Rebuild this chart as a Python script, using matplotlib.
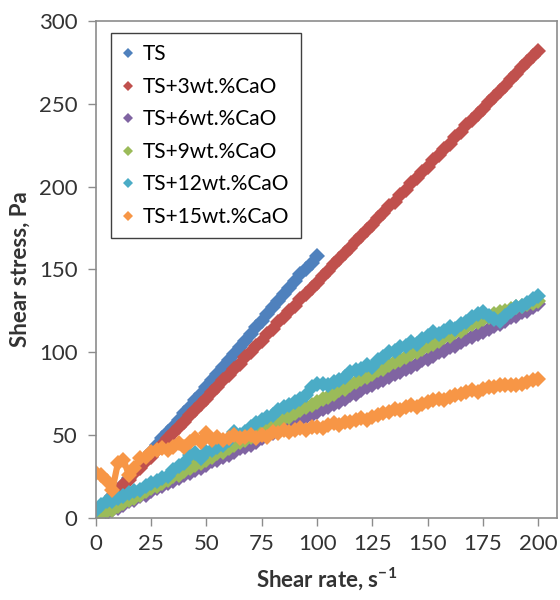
"""Shear stress vs shear rate, TS with CaO additions (Excel-style scatter)."""

import matplotlib

matplotlib.use("Agg")
import matplotlib.pyplot as plt

plt.rcParams["font.family"] = ["Lato", "DejaVu Sans"]
plt.rcParams["mathtext.fontset"] = "custom"
plt.rcParams["mathtext.rm"] = "Lato"
plt.rcParams["mathtext.bf"] = "Lato:bold"

# -- data (step 2.5 s^-1)
rate_ts = [i * 2.5 for i in range(41)]
rate = [i * 2.5 for i in range(81)]

stress_ts = [0, 4, 8, 12, 16, 20, 24, 28, 32, 36,
             40, 44, 48, 52, 55, 59, 63, 67, 71, 75,
             79, 83, 87, 91, 95, 99, 103, 107, 111, 115,
             119, 123, 127, 131, 135, 139, 143, 147, 150, 154, 158]

stress_3 = [2, 6, 9, 13, 16, 20, 23, 27, 30, 34,
            37, 41, 44, 48, 51, 55, 58, 62, 65, 69,
            72, 76, 79, 83, 86, 90, 93, 97, 100, 104,
            107, 111, 114, 118, 121, 125, 128, 132, 135, 139,
            142, 146, 149, 153, 156, 160, 163, 167, 170, 174,
            177, 181, 184, 188, 191, 195, 198, 202, 205, 209,
            212, 216, 219, 223, 226, 230, 233, 237, 240, 244,
            247, 251, 254, 258, 261, 265, 268, 272, 275, 279, 282]

stress_6 = [0, 2, 3, 5, 6, 8, 10, 11, 13, 14,
            16, 18, 19, 21, 22, 24, 26, 27, 29, 30,
            32, 34, 35, 37, 38, 40, 42, 43, 44, 46,
            48, 50, 51, 53, 54, 56, 58, 59, 61, 62,
            64, 66, 67, 69, 70, 72, 74, 75, 77, 79,
            80, 82, 83, 85, 87, 88, 90, 91, 93, 95,
            96, 98, 100, 101, 103, 104, 106, 108, 109, 111,
            112, 114, 116, 117, 119, 121, 122, 124, 125, 127, 129]

stress_9 = [0, 2, 4, 5, 7, 9, 11, 12, 14, 16,
            18, 19, 21, 23, 25, 26, 28, 30, 32, 33,
            35, 37, 39, 40, 42, 44, 46, 47, 49, 51,
            53, 54, 56, 58, 60, 61, 63, 65, 67, 68,
            70, 72, 73, 75, 77, 78, 80, 82, 84, 85,
            87, 89, 90, 92, 94, 95, 97, 99, 100, 102,
            104, 105, 107, 109, 110, 112, 113, 115, 117, 118,
            120, 121, 123, 124, 125, 126, 127, 128, 129, 130, 131]

stress_12 = [5, 8, 10, 10, 12, 13, 15, 16, 17, 19,
             21, 22, 24, 25, 29, 31, 33, 38, 39, 36,
             40, 41, 43, 44, 47, 52, 50, 52, 55, 57,
             59, 61, 62, 65, 67, 68, 70, 72, 74, 79,
             81, 81, 80, 82, 83, 85, 88, 89, 90, 92,
             91, 95, 97, 100, 101, 103, 104, 106, 105, 108,
             110, 112, 111, 113, 115, 114, 117, 118, 121, 123,
             124, 122, 120, 119, 122, 125, 127, 128, 130, 132, 134]

stress_15 = [27, 26, 22, 17, 33, 35, 26, 30, 36, 37,
             40, 41, 42, 41, 43, 45, 43, 46, 48, 46,
             51, 47, 49, 47, 48, 50, 48, 49, 50, 48,
             50, 49, 52, 51, 53, 52, 53, 54, 53, 55,
             55, 54, 56, 57, 56, 58, 58, 59, 60, 59,
             61, 62, 63, 64, 66, 65, 67, 68, 67, 69,
             70, 71, 72, 71, 73, 74, 75, 76, 77, 76,
             78, 79, 79, 80, 80, 80, 80, 81, 82, 83, 84]

labels = ["TS", "TS+3wt.%CaO", "TS+6wt.%CaO",
          "TS+9wt.%CaO", "TS+12wt.%CaO", "TS+15wt.%CaO"]
colors = ["#4F81BD", "#C0504D", "#8064A2", "#9BBB59", "#4BACC6", "#F79646"]

TICK = "#333333"
SPINE = "#8c8c8c"

fig = plt.figure(figsize=(5.6, 6.0), dpi=100)
ax = fig.add_axes([0.171, 0.137, 0.824, 0.828])

series = [(rate_ts, stress_ts), (rate, stress_3), (rate, stress_6),
          (rate, stress_9), (rate, stress_12), (rate, stress_15)]
for (x, y), lab, col in zip(series, labels, colors):
    # fine trace under the diamonds so the band reads as continuous
    ax.plot(x, y, color=col, linewidth=4.5, solid_capstyle="butt")
    ax.plot(x, y, linestyle="none", marker="D", markersize=8,
            markeredgewidth=0, color=col, label=lab)

ax.set_xlim(0, 208.5)
ax.set_ylim(0, 300)
ax.set_xticks(range(0, 201, 25))
ax.set_yticks(range(0, 301, 50))

for side in ax.spines:
    ax.spines[side].set_color(SPINE)
    ax.spines[side].set_linewidth(1.2)
ax.tick_params(axis="both", direction="out", length=6, width=1,
               color=SPINE, labelcolor=TICK, labelsize=16)
ax.tick_params(axis="x", pad=6)
ax.tick_params(axis="y", pad=7)

ax.set_xlabel(r"Shear rate, s$^{\mathbf{-1}}$", fontsize=16, fontweight="bold",
              color=TICK, labelpad=8)
ax.set_ylabel("Shear stress, Pa", fontsize=16, fontweight="bold",
              color=TICK, labelpad=6)

leg = ax.legend(loc="upper left", bbox_to_anchor=(0.032, 0.976), borderaxespad=0,
                fontsize=15, markerscale=0.65, handlelength=0.6, handletextpad=0.4,
                labelspacing=0.6, borderpad=0.55, fancybox=False, framealpha=1)
leg.get_frame().set_edgecolor("#404040")
leg.get_frame().set_linewidth(1.0)

fig.savefig("out.png", dpi=100, facecolor="white")
